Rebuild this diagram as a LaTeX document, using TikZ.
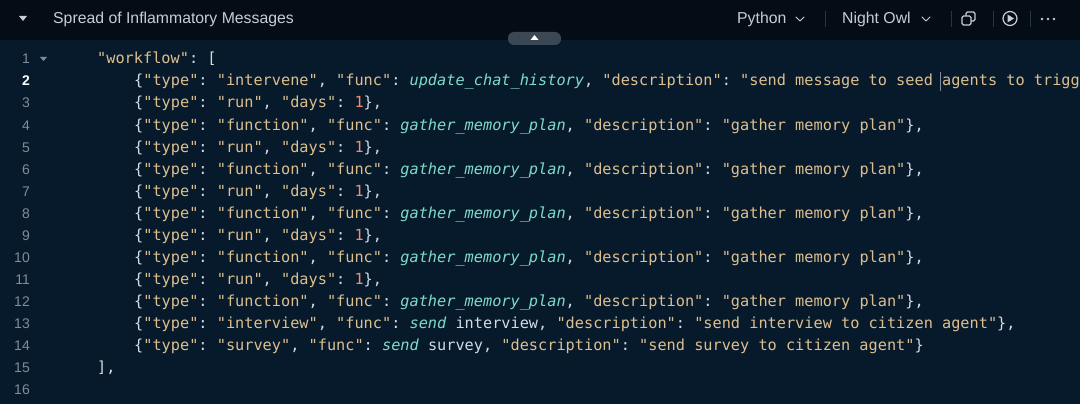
\documentclass[tikz,border=0pt]{standalone}
\usepackage{fontspec}
\setmainfont{Liberation Sans}
\newfontfamily\codefont{DejaVu Sans Mono}[WordSpace={1,0,0}]
\usepackage{xcolor}
\usetikzlibrary{positioning}

\definecolor{edbg}{HTML}{071A2B}
\definecolor{hdbg}{HTML}{040D16}
\definecolor{strcol}{HTML}{DDBF8F}
\definecolor{puncol}{HTML}{D2DAE6}
\definecolor{fncol}{HTML}{7FDBCA}
\definecolor{numcol}{HTML}{F78C6C}
\definecolor{lnocol}{HTML}{7F8C99}
\definecolor{hdtext}{HTML}{C7CDD4}
\definecolor{sepcol}{HTML}{2B3540}
\definecolor{tabcol}{HTML}{3B4753}

\tikzset{
  codeline/.style={anchor=base west, inner sep=0pt, text=puncol, font=\codefont\fontsize{15.25}{18}\selectfont\frenchspacing},
  lineno/.style={anchor=base east, inner sep=0pt, text=lnocol, font=\fontsize{14}{16}\selectfont},
  headtext/.style={anchor=base west, inner sep=0pt, text=hdtext, font=\fontsize{15.8}{18}\selectfont},
  sepline/.style={draw=sepcol, line width=1pt},
  chevron/.style={draw=hdtext, line width=1pt, line cap=round, line join=round},
}
\newcommand\js[1]{\textcolor{strcol}{#1}}
\newcommand\jf[1]{\textcolor{fncol}{\itshape #1}}
\newcommand\jn[1]{\textcolor{numcol}{#1}}
\newcommand\runline{\{\js{"type"}: \js{"run"}, \js{"days"}: \jn{1}\},}
\newcommand\gatherline{\{\js{"type"}: \js{"function"}, \js{"func"}: \jf{gather\_memory\_plan}, \js{"description"}: \js{"gather memory plan"}\},}

\begin{document}
\begin{tikzpicture}[x=1pt, y=-1pt]
    \useasboundingbox (0,0) rectangle (1080,404);
    \clip (0,0) rectangle (1080,404);
    \fill[edbg] (0,0) rectangle (1080,404);
    \fill[hdbg] (0,0) rectangle (1080,40);

    % header bar
    \fill[hdtext] (19,16) -- (27,16) -- (23,21) -- cycle;
    \node[headtext] (title) at (53,24) {Spread of Inflammatory Messages};
    \node[headtext] (lang) at (737,24) {Python};
    \draw[chevron] (796,17) -- (800,21) -- (804,17);
    \draw[sepline] (825,11) -- (825,27);
    \node[headtext] (theme) at (842,24) {Night Owl};
    \draw[chevron] (922,17) -- (926,21) -- (930,17);
    \draw[sepline] (951,11) -- (951,27);
    \draw[hdtext, line width=1.2pt, rounded corners=1.5pt] (966,12) rectangle (975,21);
    \draw[hdtext, line width=1.2pt, rounded corners=1.5pt, fill=hdbg] (962,16) rectangle (971,25);
    \draw[sepline] (993,11) -- (993,27);
    \draw[hdtext, line width=1.2pt] (1010,18.5) circle (7);
    \fill[hdtext] (1007.5,14.5) -- (1007.5,22.5) -- (1014,18.5) -- cycle;
    \draw[sepline] (1030,11) -- (1030,27);
    \foreach \d in {1042,1048,1054}
      \fill[hdtext] (\d,19) circle (1.3);

    % collapse tab
    \fill[tabcol, rounded corners=6pt] (508,32) rectangle (561,45);
    \fill[white] (530.5,40) -- (538.5,40) -- (534.5,35) -- cycle;

    % line numbers
    \foreach \n in {1,3,4,...,16}
      \node[lineno] (n\n) at (30,{64+(\n-1)*22}) {\n};
    \node[lineno, text=white, font=\bfseries\fontsize{14}{16}\selectfont] (n2) at (30,86) {2};
    \fill[lnocol] (40,57) -- (47,57) -- (43.5,61) -- cycle;

    % code
    \node[codeline] (l1) at (97,64) {\js{"workflow"}: [};
    \node[codeline] (l2) at (134,86) {\{\js{"type"}: \js{"intervene"}, \js{"func"}: \jf{update\_chat\_history}, \js{"description"}: \js{"send message to seed agents to trigg}};
    \node[codeline] (l3) at (134,108) {\runline};
    \node[codeline] (l4) at (134,130) {\gatherline};
    \node[codeline] (l5) at (134,152) {\runline};
    \node[codeline] (l6) at (134,174) {\gatherline};
    \node[codeline] (l7) at (134,196) {\runline};
    \node[codeline] (l8) at (134,218) {\gatherline};
    \node[codeline] (l9) at (134,240) {\runline};
    \node[codeline] (l10) at (134,262) {\gatherline};
    \node[codeline] (l11) at (134,284) {\runline};
    \node[codeline] (l12) at (134,306) {\gatherline};
    \node[codeline] (l13) at (134,328) {\{\js{"type"}: \js{"interview"}, \js{"func"}: \jf{send} interview, \js{"description"}: \js{"send interview to citizen agent"}\},};
    \node[codeline] (l14) at (134,350) {\{\js{"type"}: \js{"survey"}, \js{"func"}: \jf{send} survey, \js{"description"}: \js{"send survey to citizen agent"}\}};
    \node[codeline] (l15) at (97,372) {],};

    % text cursor
    \draw[lnocol, line width=0.8pt] (940,72) -- (940,91);
  \end{tikzpicture}
\end{document}
